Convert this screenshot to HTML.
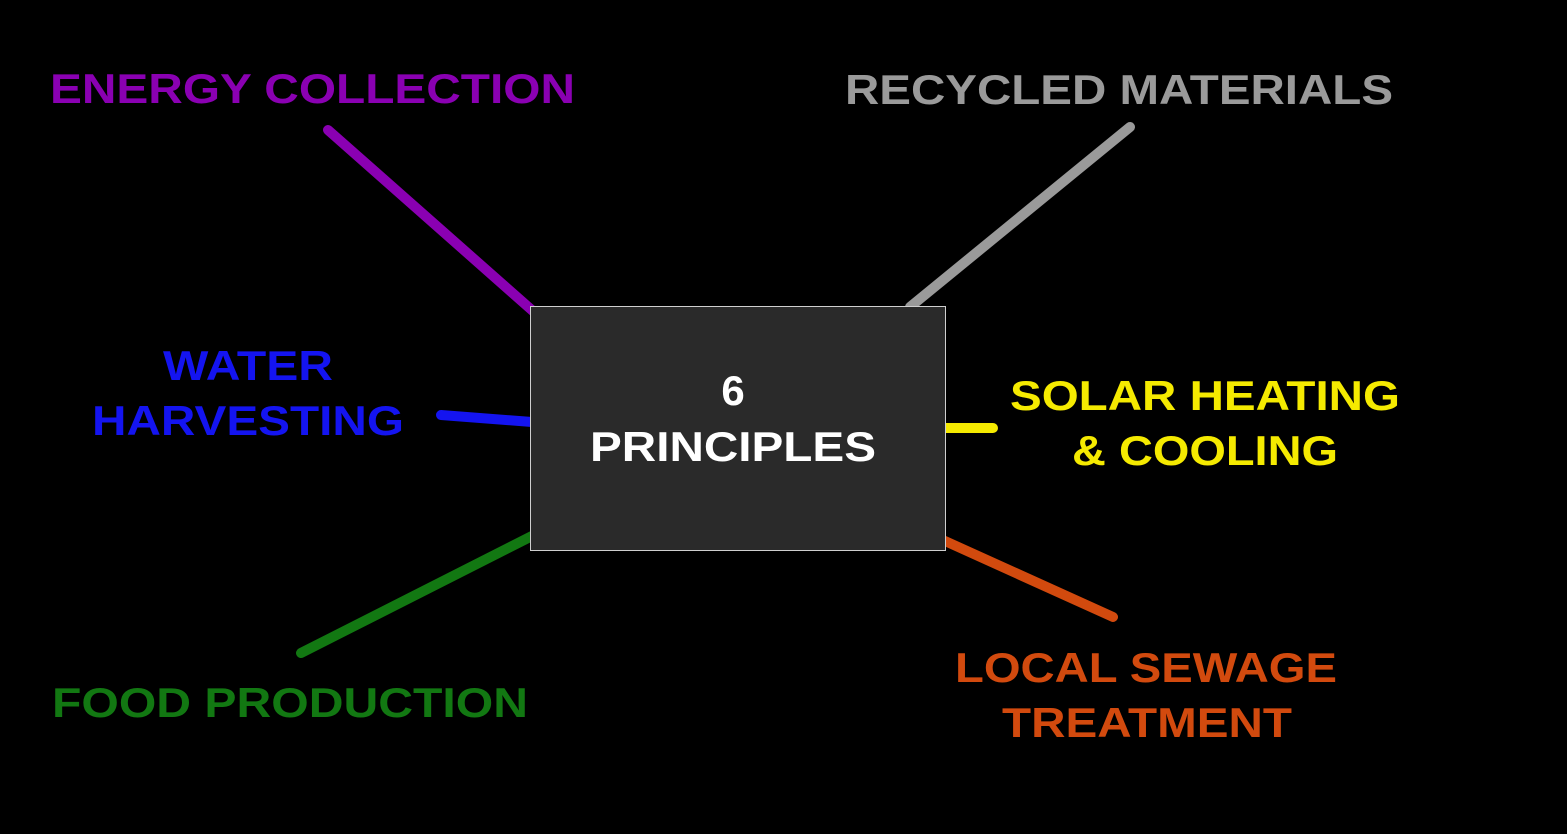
<!DOCTYPE html>
<html><head><meta charset="utf-8"><style>
html,body{margin:0;padding:0;background:#000;}
svg{display:block;}
text{font-family:"Liberation Sans",Arial,sans-serif;font-weight:bold;}
</style></head><body>
<svg width="1567" height="834" viewBox="0 0 1567 834" xmlns="http://www.w3.org/2000/svg">
<rect width="1567" height="834" fill="#000"/>
<g stroke-width="10" stroke-linecap="round">
<line x1="328" y1="130" x2="534" y2="312" stroke="#8a00b2"/>
<line x1="1130" y1="127" x2="910" y2="307" stroke="#9a9a9a"/>
<line x1="441" y1="415" x2="532" y2="422" stroke="#1414f0"/>
<line x1="945" y1="428" x2="993" y2="428" stroke="#f5ea00"/>
<line x1="301" y1="653" x2="532" y2="536" stroke="#127812"/>
<line x1="945" y1="541" x2="1113" y2="617" stroke="#d24a0e"/>
</g>
<rect x="530.5" y="306.5" width="415" height="244" fill="#2a2a2a" stroke="#cfcfcf" stroke-width="1"/>
<g font-size="42">
<text x="50" y="103" fill="#8a00b2" textLength="525" lengthAdjust="spacingAndGlyphs">ENERGY COLLECTION</text>
<text x="845" y="104" fill="#9a9a9a" textLength="548" lengthAdjust="spacingAndGlyphs">RECYCLED MATERIALS</text>
<text x="163" y="380" fill="#1414f0" textLength="170" lengthAdjust="spacingAndGlyphs">WATER</text>
<text x="92" y="435" fill="#1414f0" textLength="312" lengthAdjust="spacingAndGlyphs">HARVESTING</text>
<text x="1010" y="410" fill="#f5ea00" textLength="390" lengthAdjust="spacingAndGlyphs">SOLAR HEATING</text>
<text x="1072" y="465" fill="#f5ea00" textLength="266" lengthAdjust="spacingAndGlyphs">&amp; COOLING</text>
<text x="52" y="717" fill="#127812" textLength="476" lengthAdjust="spacingAndGlyphs">FOOD PRODUCTION</text>
<text x="955" y="682" fill="#d24a0e" textLength="382" lengthAdjust="spacingAndGlyphs">LOCAL SEWAGE</text>
<text x="1002" y="737" fill="#d24a0e" textLength="290" lengthAdjust="spacingAndGlyphs">TREATMENT</text>
<text x="733" y="405" fill="#fff" text-anchor="middle">6</text>
<text x="590" y="461" fill="#fff" textLength="286" lengthAdjust="spacingAndGlyphs">PRINCIPLES</text>
</g>
</svg>
</body></html>
